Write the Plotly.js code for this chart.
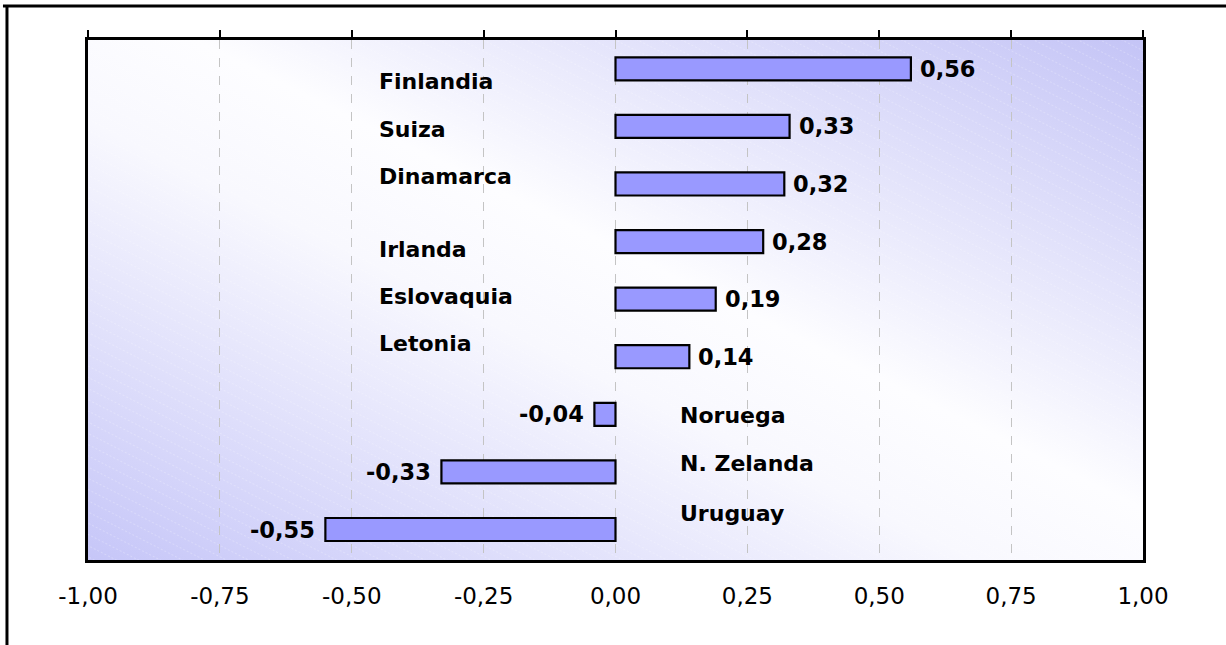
<!DOCTYPE html>
<html>
<head>
<meta charset="utf-8">
<script src="https://cdn.plot.ly/plotly-3.0.1.min.js"></script>
<style>
html,body{margin:0;padding:0;background:#fff;}
#chart{width:1226px;height:645px;}
</style>
</head>
<body>
<div id="chart"></div>
<script>
// ---- data ----
const countries = ["Finlandia","Suiza","Dinamarca","Irlanda","Eslovaquia","Letonia","Noruega","N. Zelanda","Uruguay"];
const values = [0.56, 0.33, 0.32, 0.28, 0.19, 0.14, -0.04, -0.33, -0.55];
const tickValues = [-1, -0.75, -0.5, -0.25, 0, 0.25, 0.5, 0.75, 1];
const tickLabels = ["-1,00","-0,75","-0,50","-0,25","0,00","0,25","0,50","0,75","1,00"];

// ---- label placement (style, not data) ----
const labelShift = [-13, -3, 7, -8, 3, 13, -1, 8, 16];

const fmt = v => v.toFixed(2).replace('.', ',');

// background gradient as inline SVG
const bgSvg = `<svg xmlns="http://www.w3.org/2000/svg" width="1055" height="520" viewBox="0 0 1055 520" preserveAspectRatio="none">
<defs>
<linearGradient id="g" gradientUnits="userSpaceOnUse" x1="321" y1="678" x2="734" y2="-158">
<stop offset="0" stop-color="#c6c6f8"/>
<stop offset="0.42" stop-color="#f8f8fe"/>
<stop offset="0.55" stop-color="#fdfdff"/>
<stop offset="1" stop-color="#c4c4f6"/>
</linearGradient>
<pattern id="p" patternUnits="userSpaceOnUse" width="20" height="10" patternTransform="rotate(27)">
<line x1="0" y1="0" x2="20" y2="0" stroke="#ffffff" stroke-width="1" stroke-dasharray="2,2" stroke-opacity="0.45"/>
</pattern>
</defs>
<rect width="1055" height="520" fill="url(#g)"/>
<rect width="1055" height="520" fill="url(#p)"/>
</svg>`;
const bgUri = 'data:image/svg+xml;base64,' + btoa(bgSvg);

const trace = {
  type: 'bar',
  orientation: 'h',
  y: countries,
  x: values,
  width: 0.4,
  marker: {color: '#9999ff', line: {color: '#000000', width: 2.2}},
  hoverinfo: 'skip',
  showlegend: false
};
// same bars bound to the top axis (transparent) so that axis is drawn
const traceTop = Object.assign({}, trace, {
  xaxis: 'x2', opacity: 0,
  marker: {color: 'rgba(0,0,0,0)', line: {width: 0}}
});

const annotations = [];
countries.forEach((c, i) => {
  const v = values[i];
  annotations.push({
    x: v, y: c, xref: 'x', yref: 'y',
    text: fmt(v), showarrow: false,
    xanchor: v >= 0 ? 'left' : 'right',
    xshift: v >= 0 ? 7 : -8,
    font: {family: 'DejaVu Sans', size: 22.5, color: '#000', weight: 'bold'}
  });
  annotations.push({
    x: v >= 0 ? 0.274 : 0.559, y: c, xref: 'paper', yref: 'y',
    text: c, showarrow: false, xanchor: 'left',
    yshift: labelShift[i],
    font: {family: 'DejaVu Sans', size: 22, color: '#000', weight: 'bold'}
  });
});

const layout = {
  width: 1226, height: 645,
  margin: {l: 88, r: 83, t: 40, b: 85},
  paper_bgcolor: '#ffffff',
  plot_bgcolor: 'rgba(0,0,0,0)',
  font: {family: 'DejaVu Sans', color: '#000'},
  separators: ', ',
  bargap: 0.6,
  barmode: 'overlay',
  xaxis: {
    range: [-1, 1],
    tickvals: tickValues, ticktext: tickLabels,
    ticks: '', ticklabelstandoff: 13,
    tickfont: {family: 'DejaVu Sans', size: 23, color: '#000'},
    showgrid: true, gridcolor: '#c4c4c4', gridwidth: 1, griddash: 'dash',
    zeroline: false,
    showline: true, linecolor: '#000', linewidth: 3,
    fixedrange: true
  },
  xaxis2: {
    overlaying: 'x', side: 'top', range: [-1, 1],
    tickvals: tickValues, showticklabels: false,
    ticks: 'outside', ticklen: 7, tickwidth: 2, tickcolor: '#000',
    showgrid: false, zeroline: false,
    showline: true, linecolor: '#000', linewidth: 3,
    fixedrange: true
  },
  yaxis: {
    autorange: 'reversed', showticklabels: false, ticks: '',
    showgrid: false, zeroline: false,
    showline: true, mirror: true, linecolor: '#000', linewidth: 3,
    fixedrange: true
  },
  images: [{
    source: bgUri, xref: 'paper', yref: 'paper',
    x: 0, y: 1, sizex: 1, sizey: 1, sizing: 'stretch',
    xanchor: 'left', yanchor: 'top', layer: 'below'
  }],
  shapes: [
    {type: 'line', xref: 'paper', yref: 'paper', x0: -0.0806, x1: 1.08, y0: 1.0654, y1: 1.0654, line: {color: '#000', width: 3}},
    {type: 'line', xref: 'paper', yref: 'paper', x0: -0.0768, x1: -0.0768, y0: 1.0654, y1: -0.17, line: {color: '#000', width: 3}}
  ],
  annotations: annotations
};

Plotly.newPlot('chart', [trace, traceTop], layout, {displayModeBar: false, staticPlot: true});
</script>
</body>
</html>
